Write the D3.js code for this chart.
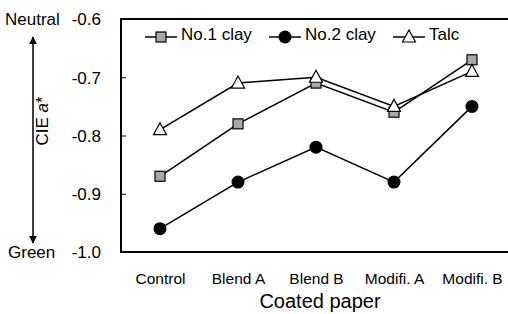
<!DOCTYPE html>
<html>
<head>
<meta charset="utf-8">
<script src="https://cdn.jsdelivr.net/npm/d3@7"></script>
<style>
  body { margin: 0; background: #fff; }
  text { font-family: "Liberation Sans", Arial, sans-serif; fill: #000; }
</style>
</head>
<body>
<svg id="chart" width="508" height="314"></svg>
<script>
const categories = ["Control", "Blend A", "Blend B", "Modifi. A", "Modifi. B"]
const clay1 = [-0.87, -0.78, -0.71, -0.76, -0.67]
const clay2 = [-0.96, -0.88, -0.82, -0.88, -0.75]
const talc = [-0.79, -0.71, -0.70, -0.75, -0.69]
const seriesNames = ["No.1 clay", "No.2 clay", "Talc"]
const yTicks = [-1.0, -0.9, -0.8, -0.7, -0.6]

const svg = d3.select("#chart")

// plot box runs off the right edge in the original
const plotLeft = 121, plotRight = 511, plotTop = 19, plotBottom = 252

const x = d3.scalePoint().domain(categories).range([plotLeft, plotRight]).padding(0.5)
const y = d3.scaleLinear().domain([-1.0, -0.6]).range([plotBottom, plotTop])

// frame
svg.append("rect")
  .attr("x", plotLeft).attr("y", plotTop)
  .attr("width", plotRight - plotLeft).attr("height", plotBottom - plotTop)
  .attr("fill", "none").attr("stroke", "#000").attr("stroke-width", 2)

// y axis, ticks point inward, plain hyphen for minus
const yAxis = d3.axisLeft(y).tickValues(yTicks).tickSize(-5).tickPadding(20)
  .tickFormat(d => d.toFixed(1))
const ya = svg.append("g").attr("transform", `translate(${plotLeft},0)`).call(yAxis)
ya.select(".domain").remove()
ya.selectAll("text").style("font-size", "17px")
  .style("font-family", "'Liberation Sans', Arial, sans-serif")
  .attr("dy", "0.35em")

// x axis labels only
const xAxis = d3.axisBottom(x).tickSize(0).tickPadding(21)
const xa = svg.append("g").attr("transform", `translate(0,${plotBottom})`).call(xAxis)
xa.select(".domain").remove()
xa.selectAll("text").style("font-size", "15.5px")
  .style("font-family", "'Liberation Sans', Arial, sans-serif")

svg.append("text").attr("x", 320).attr("y", 308)
  .attr("text-anchor", "middle").style("font-size", "20px").text("Coated paper")

// Neutral / Green labels with arrow
svg.append("text").attr("x", 5).attr("y", 25).style("font-size", "17px").text("Neutral")
svg.append("text").attr("x", 8).attr("y", 258).style("font-size", "17px").text("Green")

svg.append("defs").append("marker")
  .attr("id", "arrow").attr("viewBox", "0 0 10 10")
  .attr("refX", 9).attr("refY", 5)
  .attr("markerWidth", 8).attr("markerHeight", 8)
  .attr("markerUnits", "userSpaceOnUse")
  .attr("orient", "auto-start-reverse")
  .append("path").attr("d", "M0,0 L10,5 L0,10 Z").attr("fill", "#000")

svg.append("line")
  .attr("x1", 33).attr("y1", 37).attr("x2", 33).attr("y2", 243)
  .attr("stroke", "#000").attr("stroke-width", 1.5)
  .attr("marker-start", "url(#arrow)").attr("marker-end", "url(#arrow)")

svg.append("text")
  .attr("transform", "translate(48,121) rotate(-90)")
  .attr("text-anchor", "middle").style("font-size", "17px")
  .html("CIE <tspan font-style='italic'>a</tspan>*")

// symbols
function drawMarker(g, kind, cx, cy) {
  if (kind == 0) {
    g.append("rect").attr("x", cx - 5).attr("y", cy - 5)
      .attr("width", 10).attr("height", 10)
      .attr("fill", "#a8a8a8").attr("stroke", "#000").attr("stroke-width", 1.2)
  } else if (kind == 1) {
    g.append("circle").attr("cx", cx).attr("cy", cy).attr("r", 6.5).attr("fill", "#000")
  } else {
    g.append("path")
      .attr("d", `M${cx},${cy - 7} L${cx + 6.5},${cy + 5} L${cx - 6.5},${cy + 5} Z`)
      .attr("fill", "#fff").attr("stroke", "#000").attr("stroke-width", 1.2)
  }
}

const allSeries = [clay1, clay2, talc]
const line = d3.line().x((d, i) => x(categories[i])).y(d => y(d))

allSeries.forEach((vals, k) => {
  const g = svg.append("g")
  g.append("path").attr("d", line(vals))
    .attr("fill", "none").attr("stroke", "#000").attr("stroke-width", 1.5)
  vals.forEach((v, i) => drawMarker(g, k, x(categories[i]), y(v)))
})

// legend
const legendX = [145, 269, 393]
seriesNames.forEach((name, k) => {
  const g = svg.append("g")
  const lx = legendX[k], ly = 37
  g.append("line").attr("x1", lx).attr("x2", lx + 32).attr("y1", ly).attr("y2", ly)
    .attr("stroke", "#000").attr("stroke-width", 1.5)
  drawMarker(g, k, lx + 16, ly)
  g.append("text").attr("x", lx + 36).attr("y", ly).attr("dy", "0.2em")
    .style("font-size", "17px").text(name)
})
</script>
</body>
</html>
